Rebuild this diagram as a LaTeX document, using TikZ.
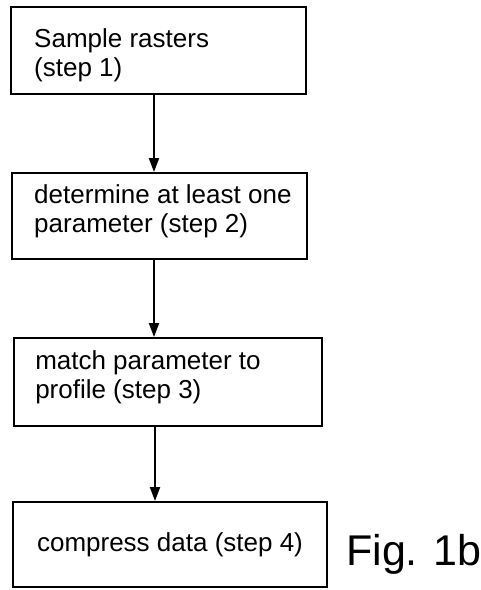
\documentclass[tikz,border=0pt]{standalone}
\usepackage{fontspec}
\setmainfont{Liberation Sans}
\usetikzlibrary{arrows.meta, positioning}

\begin{document}
\begin{tikzpicture}[
        x=1pt, y=1pt,
        stepbox/.style={rectangle, draw, line width=1.9pt, inner sep=0pt},
        steptext/.style={
            anchor=west, align=left, inner sep=0pt,
            font=\fontsize{26}{29}\selectfont
        },
        figlabel/.style={font=\fontsize{43}{48}\selectfont, inner sep=0pt},
        flow/.style={-{Triangle[length=14pt, width=10pt]}, line width=2pt}
    ]
        \useasboundingbox (0,0) rectangle (481,-590);

        \node[stepbox, minimum width=295pt, minimum height=87pt] (box1) at (158.5,-50.5) {};
        \node[stepbox, minimum width=295pt, minimum height=86pt] (box2) at (159.5,-216) {};
        \node[stepbox, minimum width=308pt, minimum height=88pt] (box3) at (168,-382) {};
        \node[stepbox, minimum width=314pt, minimum height=85pt] (box4) at (170,-544.5) {};

        \node[steptext] (text1) at ([xshift=24pt, yshift=-5pt]box1.west) {Sample rasters\\(step 1)};
        \node[steptext] (text2) at ([xshift=23pt, yshift=5pt]box2.west) {determine at least one\\parameter (step 2)};
        \node[steptext] (text3) at ([xshift=22pt, yshift=5pt]box3.west) {match parameter to\\profile (step 3)};
        \node[steptext, anchor=center] (text4) at (box4.center) {compress data (step 4)};

        \node[figlabel, anchor=base west] (fig) at (346,-565) {Fig. 1b};

        \draw[flow] ([xshift=-4.5pt]box1.south) -- ([xshift=-4.5pt]box1.south |- box2.north);
        \draw[flow] ([xshift=-5.5pt]box2.south) -- ([xshift=-5.5pt]box2.south |- box3.north);
        \draw[flow] ([xshift=-13pt]box3.south) -- ([xshift=-13pt]box3.south |- box4.north);
    \end{tikzpicture}
\end{document}
